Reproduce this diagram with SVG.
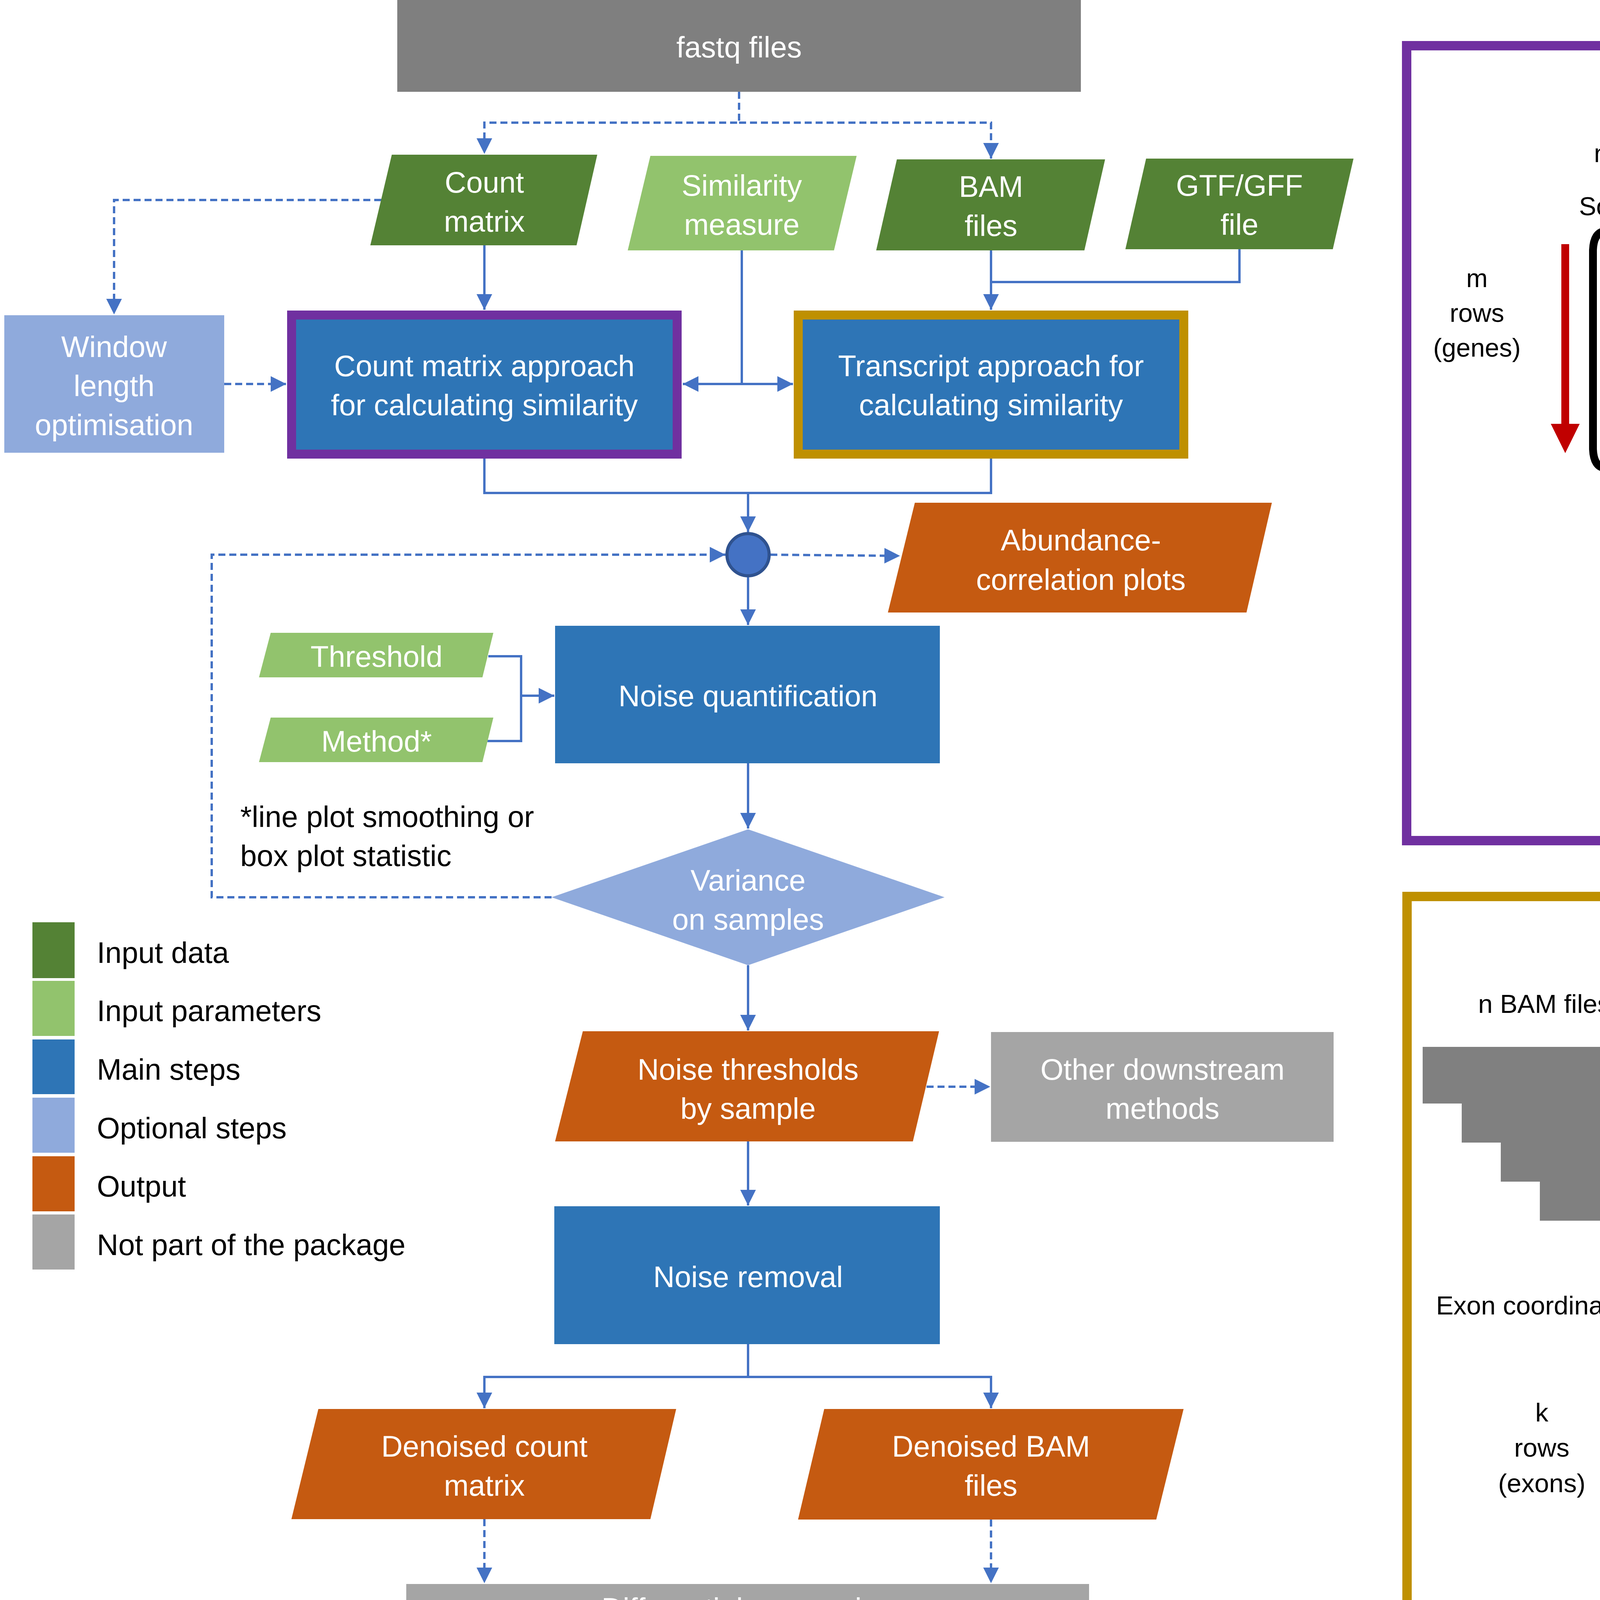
<svg xmlns="http://www.w3.org/2000/svg" width="8000" height="4500" viewBox="0 0 8000 4500">
<style>
text{font-family:"Liberation Sans",Arial,sans-serif}
.w{fill:#fff;font-size:76px;text-anchor:middle}
.k{fill:#000;font-size:76px}
.t{fill:#000;font-size:66px;text-anchor:middle}
.tt{fill:#000;font-size:67px;text-anchor:middle}
.c{fill:none;stroke:#4472C4;stroke-width:6}
.d{fill:none;stroke:#4472C4;stroke-width:6;stroke-dasharray:18 10}
.brk{fill:none;stroke:#000;stroke-width:20}
.red{fill:none;stroke:#C00000;stroke-width:18}
.grid{stroke:#EBEBEB;stroke-width:3}
.mx{font-size:64px;fill:#000}
.sub{font-size:42px}
</style>
<defs>
<marker id="ar" viewBox="0 0 10 10" refX="10" refY="5" markerWidth="40" markerHeight="44" markerUnits="userSpaceOnUse" orient="auto-start-reverse"><path d="M0,0 L10,5 L0,10 z" fill="#4472C4"/></marker>
</defs>
<rect width="8000" height="4500" fill="#fff"/>

<g id="connectors">
<path class="d" d="M1892,235 V314 H1240 V394" marker-end="url(#ar)"/>
<path class="d" d="M1892,314 H2537 V406" marker-end="url(#ar)"/>
<path class="d" d="M976,512 H292 V805" marker-end="url(#ar)"/>
<path class="c" d="M1240,628 V793" marker-end="url(#ar)"/>
<path class="c" d="M1899,641 V983"/>
<path class="c" d="M1748,983 H2030" marker-start="url(#ar)" marker-end="url(#ar)"/>
<path class="c" d="M2537,641 V793" marker-end="url(#ar)"/>
<path class="c" d="M3173,638 V722 H2537"/>
<path class="d" d="M574,983 H733" marker-end="url(#ar)"/>
<path class="c" d="M1240,1174 V1262 H2537 V1174"/>
<path class="c" d="M1915,1262 V1362" marker-end="url(#ar)"/>
<path class="d" d="M1972,1420 L2304,1423" marker-end="url(#ar)"/>
<path class="d" d="M1412,2297 H542 V1420 H1857" marker-end="url(#ar)"/>
<path class="c" d="M1915,1477 V1600" marker-end="url(#ar)"/>
<path class="c" d="M1250,1680 H1334 V1897 H1248"/>
<path class="c" d="M1334,1781 H1419" marker-end="url(#ar)"/>
<path class="c" d="M1915,1954 V2121" marker-end="url(#ar)"/>
<path class="c" d="M1915,2471 V2638" marker-end="url(#ar)"/>
<path class="d" d="M2372,2782 H2535" marker-end="url(#ar)"/>
<path class="c" d="M1915,2922 V3086" marker-end="url(#ar)"/>
<path class="c" d="M1915,3441 V3525"/>
<path class="c" d="M1915,3525 H1240 V3605" marker-end="url(#ar)"/>
<path class="c" d="M1915,3525 H2537 V3605" marker-end="url(#ar)"/>
<path class="d" d="M1240,3889 V4053" marker-end="url(#ar)"/>
<path class="d" d="M2537,3890 V4053" marker-end="url(#ar)"/>
</g>

<g id="fastq"><rect x="1017" y="0" width="1750" height="235" fill="#7F7F7F"/><text class="w" x="1892" y="147">fastq files</text></g>
<g id="countmatrix"><polygon points="1003,396 1529,396 1476,628 948,628" fill="#548235"/><text class="w" x="1240" y="493">Count</text><text class="w" x="1240" y="593">matrix</text></g>
<g id="similarity"><polygon points="1665,399 2193,399 2135,641 1607,641" fill="#92C36D"/><text class="w" x="1899" y="501">Similarity</text><text class="w" x="1899" y="601">measure</text></g>
<g id="bam"><polygon points="2296,408 2829,408 2776,641 2243,641" fill="#548235"/><text class="w" x="2537" y="504">BAM</text><text class="w" x="2537" y="604">files</text></g>
<g id="gtf"><polygon points="2934,406 3465,406 3412,638 2881,638" fill="#548235"/><text class="w" x="3173" y="501">GTF/GFF</text><text class="w" x="3173" y="601">file</text></g>
<g id="window"><rect x="11" y="807" width="563" height="352" fill="#8FAADC"/><text class="w" x="292" y="914">Window</text><text class="w" x="292" y="1014">length</text><text class="w" x="292" y="1114">optimisation</text></g>
<g id="countapproach"><rect x="746.5" y="806.5" width="987" height="356" fill="#2E75B6" stroke="#7030A0" stroke-width="23"/><text class="w" x="1240" y="963">Count matrix approach</text><text class="w" x="1240" y="1063">for calculating similarity</text></g>
<g id="transcriptapproach"><rect x="2043.5" y="806.5" width="987" height="356" fill="#2E75B6" stroke="#BF9000" stroke-width="23"/><text class="w" x="2537" y="963">Transcript approach for</text><text class="w" x="2537" y="1063">calculating similarity</text></g>
<g id="junction"><circle cx="1915" cy="1420" r="54" fill="#4472C4" stroke="#2F528F" stroke-width="8"/></g>
<g id="abundance"><polygon points="2342,1287 3256,1287 3191,1568 2273,1568" fill="#C55A11"/><text class="w" x="2767" y="1409">Abundance-</text><text class="w" x="2767" y="1510">correlation plots</text></g>
<g id="threshold"><polygon points="693,1620 1263,1620 1235,1734 663,1734" fill="#92C36D"/><text class="w" x="964" y="1707">Threshold</text></g>
<g id="method"><polygon points="693,1837 1263,1837 1235,1951 663,1951" fill="#92C36D"/><text class="w" x="964" y="1924">Method*</text></g>
<g id="noisequant"><rect x="1421" y="1602" width="985" height="352" fill="#2E75B6"/><text class="w" x="1915" y="1808">Noise quantification</text></g>
<g id="note"><text class="k" x="615" y="2117">*line plot smoothing or</text><text class="k" x="615" y="2217">box plot statistic</text></g>
<g id="variance"><polygon points="1915,2123 2418,2297 1915,2471 1412,2297" fill="#8FAADC"/><text class="w" x="1915" y="2280">Variance</text><text class="w" x="1915" y="2380">on samples</text></g>
<g id="noisethresholds"><polygon points="1492,2640 2404,2640 2337,2922 1421,2922" fill="#C55A11"/><text class="w" x="1915" y="2764">Noise thresholds</text><text class="w" x="1915" y="2864">by sample</text></g>
<g id="otherdownstream"><rect x="2537" y="2642" width="877" height="281" fill="#A5A5A5"/><text class="w" x="2976" y="2764">Other downstream</text><text class="w" x="2976" y="2864">methods</text></g>
<g id="noiseremoval"><rect x="1419" y="3088" width="987" height="353" fill="#2E75B6"/><text class="w" x="1915" y="3295">Noise removal</text></g>
<g id="denoisedcount"><polygon points="815,3607 1731,3607 1665,3889 746,3889" fill="#C55A11"/><text class="w" x="1240" y="3729">Denoised count</text><text class="w" x="1240" y="3829">matrix</text></g>
<g id="denoisedbam"><polygon points="2110,3607 3030,3607 2960,3890 2043,3890" fill="#C55A11"/><text class="w" x="2537" y="3729">Denoised BAM</text><text class="w" x="2537" y="3829">files</text></g>
<g id="downstream"><rect x="1040" y="4055" width="1748" height="418" fill="#A5A5A5"/><text class="w" x="1915" y="4144">Differential expression</text><text class="w" x="1915" y="4244">Enrichment analysis</text><text class="w" x="1915" y="4344">Gene regulatory network inference</text><text class="w" x="1915" y="4444">Integration with other data types</text></g>

<g id="legend">
<rect x="83" y="2361" width="108" height="143" fill="#548235"/>
<rect x="83" y="2511" width="108" height="141" fill="#92C36D"/>
<rect x="83" y="2661" width="108" height="140" fill="#2E75B6"/>
<rect x="83" y="2810" width="108" height="141" fill="#8FAADC"/>
<rect x="83" y="2960" width="108" height="141" fill="#C55A11"/>
<rect x="83" y="3109" width="108" height="141" fill="#A5A5A5"/>
<text class="k" x="248" y="2465">Input data</text>
<text class="k" x="248" y="2614">Input parameters</text>
<text class="k" x="248" y="2764">Main steps</text>
<text class="k" x="248" y="2914">Optional steps</text>
<text class="k" x="248" y="3063">Output</text>
<text class="k" x="248" y="3213">Not part of the package</text>
</g>

<g id="countpanel">
<rect x="3601" y="117" width="4112" height="2035" fill="none" stroke="#7030A0" stroke-width="24"/>
<text x="5562" y="214" style="font-size:86px;font-weight:bold;fill:#7030A0;text-anchor:middle">Count matrix approach</text>
<text class="t" x="4385" y="415">n columns (samples)</text>
<text class="t" x="4664" y="551">Sort by expression in sample 0 (reference)</text>
<text class="t" x="3781" y="735">m</text><text class="t" x="3781" y="824">rows</text><text class="t" x="3781" y="913">(genes)</text>
<polygon points="3997,625 4017,625 4017,1085 4044,1085 4007,1160 3970,1085 3997,1085" fill="#C00000"/>
<path class="brk" d="M4109,592 Q4080,594 4078,640 V1150 Q4080,1196 4109,1198"/>
<path class="brk" d="M4749,592 Q4778,594 4780,640 V1150 Q4778,1196 4749,1198"/>
<rect x="4119" y="629" width="130" height="533" rx="28" fill="none" stroke="#C00000" stroke-width="18"/>
<g class="mx">
<text x="4146" y="728">x<tspan class="sub" dy="19">a0</tspan></text>
<text x="4379" y="728">x<tspan class="sub" dy="19">aj</tspan></text>
<text x="4646" y="728">x<tspan class="sub" dy="19">an</tspan></text>
<text x="4146" y="913">x<tspan class="sub" dy="17">b0</tspan></text>
<text x="4379" y="913">x<tspan class="sub" dy="17">bj</tspan></text>
<text x="4650" y="913">x<tspan class="sub" dy="17">bn</tspan></text>
<text x="4146" y="1099">x<tspan class="sub" dy="19">c0</tspan></text>
<text x="4376" y="1099">x<tspan class="sub" dy="19">cj</tspan></text>
<text x="4640" y="1099">x<tspan class="sub" dy="19">cn</tspan></text>
</g>
<g fill="#000">
<circle cx="4265" cy="743" r="4"/><circle cx="4313" cy="743" r="4"/><circle cx="4359" cy="743" r="4"/>
<circle cx="4485" cy="743" r="4"/><circle cx="4533" cy="743" r="4"/><circle cx="4580" cy="743" r="4"/>
<circle cx="4265" cy="929" r="4"/><circle cx="4313" cy="929" r="4"/><circle cx="4359" cy="929" r="4"/>
<circle cx="4490" cy="929" r="4"/><circle cx="4537" cy="929" r="4"/><circle cx="4584" cy="929" r="4"/>
<circle cx="4262" cy="1115" r="4"/><circle cx="4310" cy="1115" r="4"/><circle cx="4356" cy="1115" r="4"/>
<circle cx="4478" cy="1115" r="4"/><circle cx="4526" cy="1115" r="4"/><circle cx="4573" cy="1115" r="4"/>
</g>
<g fill="none" stroke="#000" stroke-width="14">
<path d="M4852,645 H4876 V763 H4852"/>
<path d="M4901,697 H4925 V814 H4901"/>
<path d="M4955,748 H4979 V865 H4955"/>
<path d="M5005,799 H5029 V917 H5005"/>
</g>
<text class="t" x="5205" y="701">Overlapping</text><text class="t" x="5205" y="790">sliding</text><text class="t" x="5205" y="879">windows</text>
<polygon points="5457,760 5725,760 5725,738 5797,774 5725,810 5725,788 5457,788" fill="#000"/>
<text class="t" x="5991" y="707">for each</text><text class="t" x="5991" y="801">sliding</text><text class="t" x="5991" y="887">window</text>
<text class="t" x="6345" y="418">for each sample j</text>
<text x="6236" y="537" style="font-size:62px;font-weight:bold;text-anchor:middle">S<tspan style="font-size:40px" dy="12">0</tspan></text>
<text x="6410" y="533" style="font-size:62px;font-weight:bold;text-anchor:middle">S<tspan style="font-size:40px" dy="14">j</tspan></text>
<rect x="6157" y="586" width="380" height="655" fill="none" stroke="#000" stroke-width="6"/>
<line x1="6346" y1="586" x2="6346" y2="1241" stroke="#000" stroke-width="6"/>
<text class="t" x="6250" y="680">x<tspan style="font-size:44px" dy="12">1</tspan></text>
<text class="t" x="6440" y="680">y<tspan style="font-size:44px" dy="12">1</tspan></text>
<circle cx="6250" cy="805" r="5"/><circle cx="6440" cy="805" r="5"/>
<text class="t" x="6250" y="935">x<tspan style="font-size:44px" dy="12">i</tspan></text>
<text class="t" x="6440" y="935">y<tspan style="font-size:44px" dy="12">i</tspan></text>
<circle cx="6250" cy="1068" r="5"/><circle cx="6440" cy="1068" r="5"/>
<text class="t" x="6250" y="1209">x<tspan style="font-size:44px" dy="12">m</tspan></text>
<text class="t" x="6440" y="1209">y<tspan style="font-size:44px" dy="12">m</tspan></text>
<path d="M6558,618 C6590,625 6595,680 6595,760 L6598,860 C6600,905 6625,918 6693,919 C6625,920 6600,935 6598,980 L6595,1080 C6595,1160 6590,1215 6558,1222" fill="none" stroke="#000" stroke-width="11"/>
<rect x="6787" y="739" width="768" height="359" rx="70" class="red"/>
<text class="t" x="7171" y="850">Calculate selected</text><text class="t" x="7171" y="940">correlation or</text><text class="t" x="7171" y="1030">distance measure</text>
<text class="t" x="5552" y="1380">average across j</text>
<path d="M4752,1385 C4765,1412 4800,1424 4850,1424 L5460,1424 C5515,1424 5545,1445 5552,1521 C5559,1445 5590,1424 5645,1424 L6255,1424 C6305,1424 6345,1412 6358,1385" fill="none" stroke="#000" stroke-width="18"/>
<rect x="4445" y="1584" width="2276" height="472" rx="80" class="red"/>
<path class="brk" d="M4524,1623 Q4502,1628 4501,1660 V1985 Q4502,2017 4524,2022"/>
<path class="brk" d="M5400,1623 Q5422,1628 5423,1660 V1985 Q5422,2017 5400,2022"/>
<path class="brk" d="M5776,1623 Q5754,1628 5753,1660 V1985 Q5754,2017 5776,2022"/>
<path class="brk" d="M6647,1623 Q6669,1628 6670,1660 V1985 Q6669,2017 6647,2022"/>
<text class="t" x="4959" y="1745">Expression by window</text><text class="t" x="4959" y="1835">and sample</text><text class="t" x="4959" y="1925">(expression.levels)</text>
<text class="t" x="6204" y="1745">Similarity by window</text><text class="t" x="6204" y="1835">and sample</text><text class="t" x="6204" y="1925">(expression.levels.similarity)</text>
</g>

<g id="transcriptpanel">
<rect x="3602" y="2295" width="4112" height="2038" fill="none" stroke="#BF9000" stroke-width="24"/>
<text x="5563" y="2390" style="font-size:86px;font-weight:bold;fill:#BF9000;text-anchor:middle">Transcript approach</text>
<text class="tt" x="4216" y="2593">n BAM files (one per sample)</text>
<g fill="#808080">
<rect x="3642" y="2680" width="1179" height="145"/>
<rect x="3742" y="2780" width="1179" height="145"/>
<rect x="3842" y="2880" width="1179" height="145"/>
<rect x="3942" y="2980" width="1179" height="145"/>
</g>
<text class="tt" x="4244" y="3365">Exon coordinates table (from GTF file)</text>
<rect x="4185" y="3454" width="614" height="656" fill="none" stroke="#000" stroke-width="6"/>
<g fill="#000">
<circle cx="4261" cy="3545" r="4"/><circle cx="4337" cy="3545" r="4"/><circle cx="4414" cy="3545" r="4"/><circle cx="4490" cy="3545" r="4"/><circle cx="4569" cy="3545" r="4"/><circle cx="4646" cy="3545" r="4"/><circle cx="4722" cy="3545" r="4"/>
<circle cx="4261" cy="3675" r="4"/><circle cx="4337" cy="3675" r="4"/><circle cx="4414" cy="3675" r="4"/><circle cx="4490" cy="3675" r="4"/><circle cx="4569" cy="3675" r="4"/><circle cx="4646" cy="3675" r="4"/><circle cx="4722" cy="3675" r="4"/>
<circle cx="4261" cy="3806" r="4"/><circle cx="4337" cy="3806" r="4"/><circle cx="4414" cy="3806" r="4"/><circle cx="4490" cy="3806" r="4"/><circle cx="4569" cy="3806" r="4"/><circle cx="4646" cy="3806" r="4"/><circle cx="4722" cy="3806" r="4"/>
<circle cx="4261" cy="3936" r="4"/><circle cx="4337" cy="3936" r="4"/><circle cx="4414" cy="3936" r="4"/><circle cx="4490" cy="3936" r="4"/><circle cx="4569" cy="3936" r="4"/><circle cx="4646" cy="3936" r="4"/><circle cx="4722" cy="3936" r="4"/>
<circle cx="4261" cy="4067" r="4"/><circle cx="4337" cy="4067" r="4"/><circle cx="4414" cy="4067" r="4"/><circle cx="4490" cy="4067" r="4"/><circle cx="4569" cy="4067" r="4"/><circle cx="4646" cy="4067" r="4"/><circle cx="4722" cy="4067" r="4"/>
</g>
<text class="tt" x="3947" y="3639">k</text><text class="tt" x="3947" y="3729">rows</text><text class="tt" x="3947" y="3820">(exons)</text>
<text class="tt" x="5082" y="3277">for</text><text class="tt" x="5082" y="3367">each</text><text class="tt" x="5082" y="3458">exon</text>
<path d="M5155,2787 C5185,2795 5190,2850 5190,2950 L5190,3340 C5190,3410 5205,3445 5256,3449 C5205,3453 5190,3490 5190,3560 L5190,3950 C5190,4050 5185,4110 5155,4116" fill="none" stroke="#000" stroke-width="15"/>
<rect x="5549" y="2491" width="771" height="277" rx="60" class="red"/>
<text class="tt" x="5934" y="2619">Calculate similarity</text><text class="tt" x="5934" y="2705">of expression profile</text>
<g id="plots">
<g class="grid">
<line x1="5354" y1="3016" x2="6556" y2="3016"/><line x1="5354" y1="3114" x2="6556" y2="3114"/><line x1="5354" y1="3211" x2="6556" y2="3211"/><line x1="5354" y1="3309" x2="6556" y2="3309"/><line x1="5354" y1="3405" x2="6556" y2="3405"/>
<line x1="5590" y1="2918" x2="5590" y2="3428"/><line x1="5894" y1="2918" x2="5894" y2="3428"/><line x1="6197" y1="2918" x2="6197" y2="3428"/><line x1="6501" y1="2918" x2="6501" y2="3428"/>
<line x1="5354" y1="3626" x2="6556" y2="3626"/><line x1="5354" y1="3722" x2="6556" y2="3722"/><line x1="5354" y1="3820" x2="6556" y2="3820"/><line x1="5354" y1="3917" x2="6556" y2="3917"/><line x1="5354" y1="4013" x2="6556" y2="4013"/>
<line x1="5590" y1="3527" x2="5590" y2="4038"/><line x1="5894" y1="3527" x2="5894" y2="4038"/><line x1="6197" y1="3527" x2="6197" y2="4038"/><line x1="6501" y1="3527" x2="6501" y2="4038"/>
</g>
<path d="M5354,2918 V3428 M5354,3527 V4038 H6556" fill="none" stroke="#333" stroke-width="3"/>
<text x="5955" y="2898" style="font-size:62px;fill:#1A1A1A;text-anchor:middle">low expression, low profile similarity</text>
<text x="5955" y="3506" style="font-size:62px;fill:#1A1A1A;text-anchor:middle">high expression, high profile similarity</text>
<g fill="none" stroke-width="5">
<path stroke="#F8766D" d="M5407,3394 C5500,3396 5700,3385 5782,3368 C5830,3358 5860,3340 5894,3341 C5950,3343 6000,3362 6032,3374 C6060,3385 6070,3398 6090,3399 C6150,3402 6200,3406 6238,3404 C6350,3400 6450,3392 6501,3389"/>
<path stroke="#00BFC4" d="M5450,3399 C5500,3380 5540,3365 5590,3355 C5650,3343 5700,3336 5746,3337 C5775,3338 5790,3343 5805,3350 C5840,3368 5860,3385 5894,3389 C5950,3396 6020,3399 6059,3398 C6100,3397 6120,3394 6139,3391 C6190,3380 6210,3362 6247,3359 C6280,3356 6310,3357 6327,3357 C6400,3358 6460,3366 6501,3378"/>
<path stroke="#00BFC4" d="M5407,3606 C5450,3628 5480,3642 5514,3655 C5570,3674 5620,3686 5666,3684 C5710,3682 5745,3675 5782,3667 C5820,3658 5850,3644 5894,3640 C5950,3635 6000,3633 6032,3636 C6080,3642 6100,3656 6139,3658 C6250,3664 6400,3670 6501,3676"/>
<path stroke="#F8766D" d="M5407,3691 C5450,3705 5480,3716 5523,3724 C5570,3732 5620,3736 5657,3735 C5710,3734 5745,3727 5782,3719 C5820,3710 5850,3694 5894,3689 C5950,3682 6000,3680 6041,3680 C6100,3681 6150,3685 6193,3690 C6230,3695 6250,3698 6282,3699 C6380,3703 6450,3706 6501,3707"/>
</g>
<text x="6474" y="3288" style="font-size:56px;font-weight:bold;font-style:italic;text-anchor:end">PCC = -0.10</text>
<text x="6474" y="3828" style="font-size:56px;font-weight:bold;font-style:italic;text-anchor:end">PCC = &#160;0.58</text>
<text x="5954" y="4107" style="font-size:76px;text-anchor:middle">exon length</text>
<text transform="translate(5318,3475) rotate(-90)" style="font-size:74px;text-anchor:middle">expression profile</text>
</g>
<polygon points="6568,3460 6637,3460 6637,3435 6711,3472 6637,3509 6637,3484 6568,3484" fill="#000"/>
<rect x="6712" y="2896" width="965" height="1151" rx="80" class="red"/>
<path class="brk" d="M6759,2945 Q6737,2950 6736,2982 V3308 Q6737,3340 6759,3345"/>
<path class="brk" d="M7631,2945 Q7653,2950 7654,2982 V3308 Q7653,3340 7631,3345"/>
<path class="brk" d="M6759,3604 Q6737,3609 6736,3641 V3965 Q6737,3997 6759,4002"/>
<path class="brk" d="M7631,3604 Q7653,3609 7654,3641 V3965 Q7653,3997 7631,4002"/>
<text class="tt" x="7191" y="3068">Expression by exon</text><text class="tt" x="7191" y="3157">and sample</text><text class="tt" x="7191" y="3246">(expression.levels)</text>
<text class="tt" x="7191" y="3726">Similarity by exon</text><text class="tt" x="7191" y="3815">and sample</text><text class="tt" x="7191" y="3905">(expression.levels.similarity)</text>
</g>
</svg>
